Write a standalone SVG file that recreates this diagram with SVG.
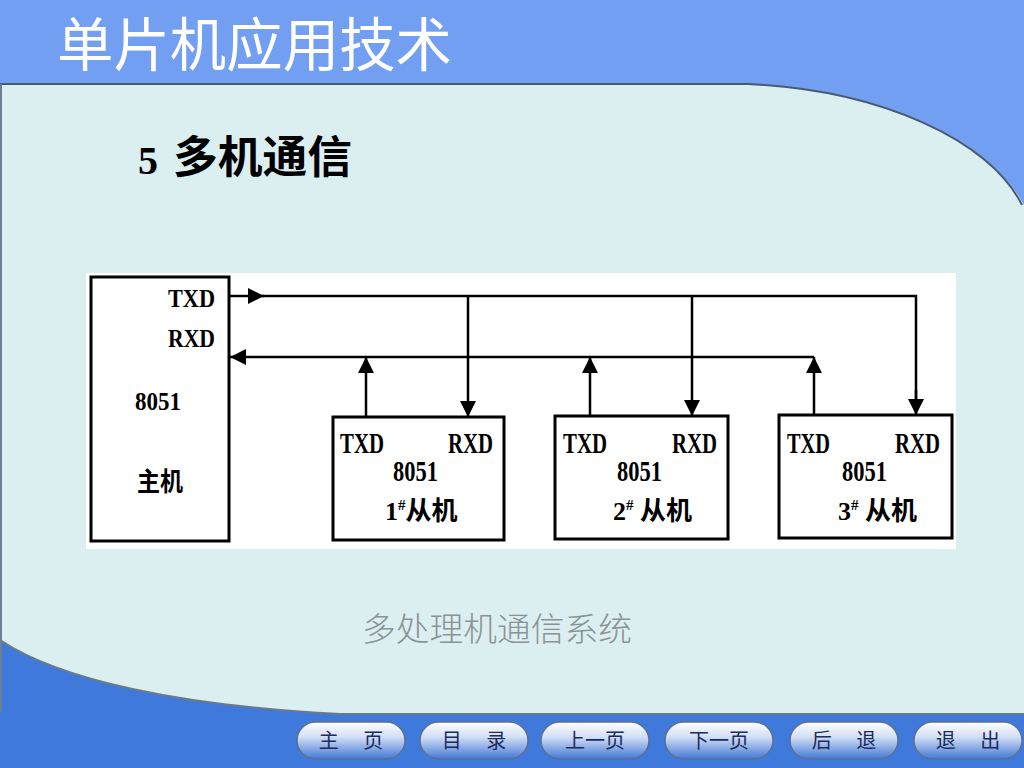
<svg xmlns="http://www.w3.org/2000/svg" width="1024" height="768" viewBox="0 0 1024 768">
<defs>
<linearGradient id="btn" x1="0" y1="0" x2="0" y2="1">
<stop offset="0" stop-color="#ffffff"/>
<stop offset="0.4" stop-color="#d2dff5"/>
<stop offset="1" stop-color="#4478d6"/>
</linearGradient>
<marker id="ah" viewBox="0 0 10 10" refX="10" refY="5" markerWidth="16" markerHeight="16" markerUnits="userSpaceOnUse" orient="auto">
<path d="M0,0 L10,5 L0,10 Z" fill="#000"/>
</marker>
<style>
.box{fill:#fff;stroke:#000;stroke-width:3}
.lbl{font-family:"Liberation Serif",serif;font-weight:bold;font-size:26px;fill:#000}
.sl{font-size:30px}
.cn{font-family:"Liberation Serif","Noto Sans CJK SC",serif;font-weight:bold;font-size:26px;fill:#000}
.wire{fill:none;stroke:#000;stroke-width:2.5}
.bt{fill:url(#btn);stroke:#5f6f8f;stroke-width:1.5}
.btt{font-family:"Noto Sans CJK SC",sans-serif;font-size:20px;fill:#1c2c60;text-anchor:middle}
</style>
</defs>
<rect width="1024" height="768" fill="#dbeef0"/>
<path d="M0,0 H1024 V205 C990,140 880,90 748,84 H0 Z" fill="#729ff2"/>
<path d="M0,84 H748 C880,90 990,140 1022,205" fill="none" stroke="#4a5a70" stroke-width="2"/>
<path d="M0,640 C60,680 180,706 340,714 H1024 V768 H0 Z" fill="#3f79db"/>
<path d="M0,640 C60,680 180,706 340,714 H1024" fill="none" stroke="#6a7a88" stroke-width="2"/>
<line x1="1" y1="84" x2="1" y2="712" stroke="#6a8090" stroke-width="2"/>
<text x="57" y="66" font-family="Noto Sans CJK SC,sans-serif" font-size="58" fill="#fff" textLength="395" lengthAdjust="spacingAndGlyphs">单片机应用技术</text>
<text x="138" y="174" font-family="Liberation Serif,serif" font-weight="bold" font-size="40" fill="#000">5</text>
<text x="173" y="173" font-family="Noto Sans CJK SC,sans-serif" font-weight="bold" font-size="44" fill="#000" textLength="179" lengthAdjust="spacingAndGlyphs">多机通信</text>
<rect x="86" y="273" width="870" height="276" fill="#fff"/>
<g id="master">
<rect class="box" x="91" y="277" width="138" height="264"/>
<text class="lbl" x="168" y="307" textLength="47" lengthAdjust="spacingAndGlyphs">TXD</text>
<text class="lbl" x="168" y="347" textLength="47" lengthAdjust="spacingAndGlyphs">RXD</text>
<text class="lbl" x="135" y="410" textLength="46" lengthAdjust="spacingAndGlyphs">8051</text>
<text class="cn" x="137" y="491" textLength="46" lengthAdjust="spacingAndGlyphs">主机</text>
</g>
<g id="slave1">
<rect class="box" x="333" y="417" width="171" height="123"/>
<text class="lbl sl" x="340" y="453" textLength="44" lengthAdjust="spacingAndGlyphs">TXD</text>
<text class="lbl sl" x="448" y="453" textLength="45" lengthAdjust="spacingAndGlyphs">RXD</text>
<text class="lbl sl" x="393" y="481" textLength="45" lengthAdjust="spacingAndGlyphs">8051</text>
<text class="cn" x="385" y="520"><tspan>1</tspan><tspan font-size="15" dy="-10">#</tspan><tspan dy="10">从机</tspan></text>
</g>
<g id="slave2">
<rect class="box" x="555" y="416" width="173" height="123"/>
<text class="lbl sl" x="563" y="453" textLength="44" lengthAdjust="spacingAndGlyphs">TXD</text>
<text class="lbl sl" x="672" y="453" textLength="45" lengthAdjust="spacingAndGlyphs">RXD</text>
<text class="lbl sl" x="617" y="481" textLength="45" lengthAdjust="spacingAndGlyphs">8051</text>
<text class="cn" x="613" y="520"><tspan>2</tspan><tspan font-size="15" dy="-10">#</tspan><tspan dy="10"> 从机</tspan></text>
</g>
<g id="slave3">
<rect class="box" x="779" y="415" width="173" height="123"/>
<text class="lbl sl" x="787" y="453" textLength="43" lengthAdjust="spacingAndGlyphs">TXD</text>
<text class="lbl sl" x="895" y="453" textLength="45" lengthAdjust="spacingAndGlyphs">RXD</text>
<text class="lbl sl" x="842" y="481" textLength="45" lengthAdjust="spacingAndGlyphs">8051</text>
<text class="cn" x="838" y="520"><tspan>3</tspan><tspan font-size="15" dy="-10">#</tspan><tspan dy="10"> 从机</tspan></text>
</g>
<g id="connectors">
<line class="wire" x1="229" y1="296" x2="264" y2="296" marker-end="url(#ah)"/>
<polyline class="wire" points="262,296 916,296 916,400"/>
<line class="wire" x1="916" y1="390" x2="916" y2="415" marker-end="url(#ah)"/>
<line class="wire" x1="468" y1="296" x2="468" y2="417" marker-end="url(#ah)"/>
<line class="wire" x1="692" y1="296" x2="692" y2="416" marker-end="url(#ah)"/>
<line class="wire" x1="814" y1="357" x2="230" y2="357" marker-end="url(#ah)"/>
<line class="wire" x1="366" y1="417" x2="366" y2="357" marker-end="url(#ah)"/>
<line class="wire" x1="590" y1="416" x2="590" y2="357" marker-end="url(#ah)"/>
<line class="wire" x1="814" y1="415" x2="814" y2="357" marker-end="url(#ah)"/>
</g>
<text x="362" y="641" font-family="Noto Sans CJK SC,sans-serif" font-weight="300" font-size="33" fill="#8a9494" textLength="270" lengthAdjust="spacingAndGlyphs">多处理机通信系统</text>
<g id="buttons">
<rect class="bt" x="297" y="722" width="108" height="37" rx="18.5"/>
<text class="btt" x="351" y="748" xml:space="preserve">主　 页</text>
<rect class="bt" x="420" y="722" width="108" height="37" rx="18.5"/>
<text class="btt" x="474" y="748" xml:space="preserve">目　 录</text>
<rect class="bt" x="541" y="722" width="108" height="37" rx="18.5"/>
<text class="btt" x="595" y="748">上一页</text>
<rect class="bt" x="665" y="722" width="108" height="37" rx="18.5"/>
<text class="btt" x="719" y="748">下一页</text>
<rect class="bt" x="790" y="722" width="108" height="37" rx="18.5"/>
<text class="btt" x="844" y="748" xml:space="preserve">后　 退</text>
<rect class="bt" x="914" y="722" width="108" height="37" rx="18.5"/>
<text class="btt" x="968" y="748" xml:space="preserve">退　 出</text>
</g>
</svg>
